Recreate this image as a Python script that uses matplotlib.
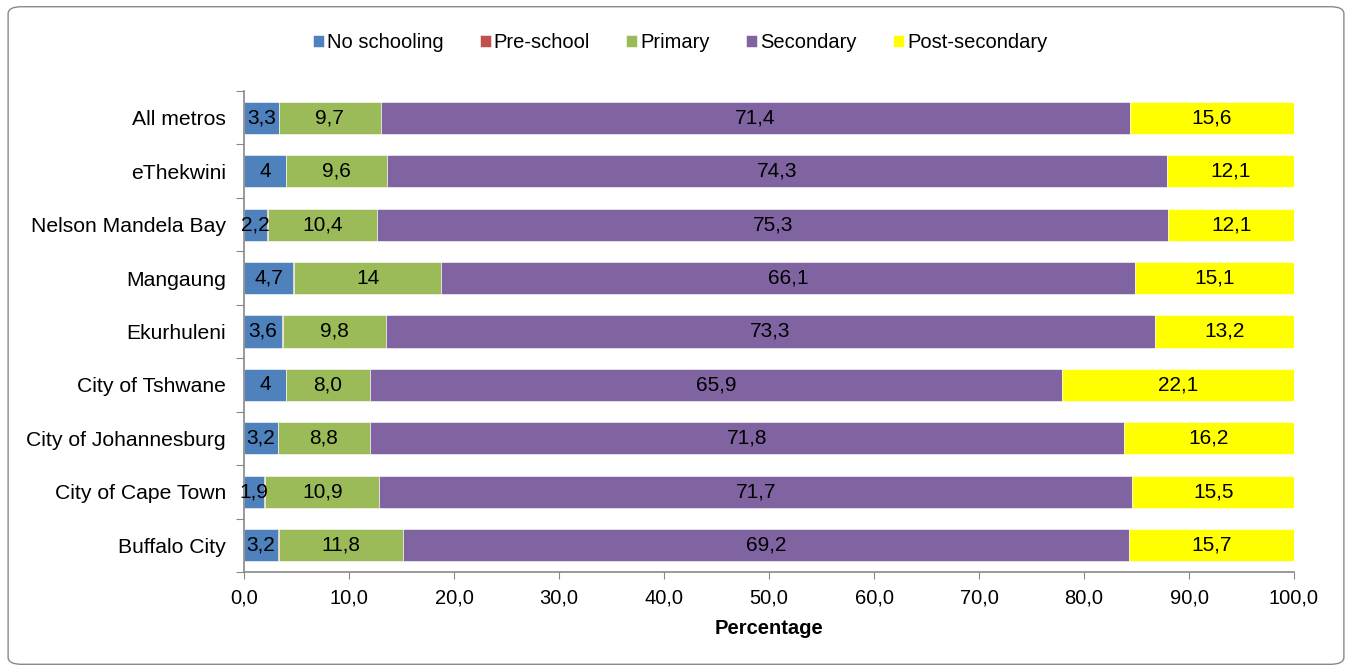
import numpy as np
import matplotlib.pyplot as plt
from matplotlib.patches import FancyBboxPatch
from matplotlib.ticker import FixedLocator

plt.rcParams['font.family'] = ['Liberation Sans', 'DejaVu Sans']

metros = ['All metros', 'eThekwini', 'Nelson Mandela Bay', 'Mangaung', 'Ekurhuleni',
          'City of Tshwane', 'City of Johannesburg', 'City of Cape Town', 'Buffalo City']

# values as printed in the labels (comma decimals)
no_schooling = ['3,3', '4', '2,2', '4,7', '3,6', '4', '3,2', '1,9', '3,2']
pre_school = ['0', '0', '0,1', '0,1', '0,1', '0', '0', '0,1', '0,1']
primary = ['9,7', '9,6', '10,4', '14', '9,8', '8,0', '8,8', '10,9', '11,8']
secondary = ['71,4', '74,3', '75,3', '66,1', '73,3', '65,9', '71,8', '71,7', '69,2']
post_secondary = ['15,6', '12,1', '12,1', '15,1', '13,2', '22,1', '16,2', '15,5', '15,7']

series = [
    ('No schooling', no_schooling, '#4F81BD', True),
    ('Pre-school', pre_school, '#C0504D', False),
    ('Primary', primary, '#9BBB59', True),
    ('Secondary', secondary, '#8064A2', True),
    ('Post-secondary', post_secondary, '#FFFF00', True),
]

FS = 14.5


def to_num(labels):
    return np.array([float(s.replace(',', '.')) for s in labels])


fig = plt.figure(figsize=(13.52, 6.71), dpi=100)
ax = fig.add_axes([0.1805, 0.1475, 0.7766, 0.717])

y = np.arange(len(metros))
left = np.zeros(len(metros))
for name, labels, color, show in series:
    vals = to_num(labels)
    ax.barh(y, vals, left=left, height=0.6, color=color, edgecolor='white',
            linewidth=0.4, label=name)
    if show:
        for yi, (l, v, s) in enumerate(zip(left, vals, labels)):
            ax.text(l + v / 2, yi, s, ha='center', va='center', fontsize=15, color='black')
    left += vals

ax.set_xlim(0, 100)
ax.set_ylim(len(metros) - 0.5, -0.5)
ax.set_xticks(np.arange(0, 101, 10))
ax.set_xticklabels([f'{v:.1f}'.replace('.', ',') for v in np.arange(0, 101, 10)], fontsize=FS)
ax.tick_params(axis='x', direction='out', length=5, color='#888888', pad=7)

# category labels on minor ticks, tick marks at the band boundaries
ax.yaxis.set_major_locator(FixedLocator(np.arange(-0.5, len(metros), 1)))
ax.yaxis.set_minor_locator(FixedLocator(y))
ax.set_yticklabels([])
ax.set_yticklabels(metros, minor=True, fontsize=15.2)
ax.tick_params(axis='y', which='major', direction='out', length=6, color='#888888')
ax.tick_params(axis='y', which='minor', length=0, pad=13)

for side in ['top', 'right']:
    ax.spines[side].set_visible(False)
for side in ['left', 'bottom']:
    ax.spines[side].set_color('#888888')
    ax.spines[side].set_linewidth(1.2)

ax.set_xlabel('Percentage', fontsize=FS, fontweight='bold', labelpad=8)

fig.legend(loc='center', bbox_to_anchor=(0.503, 0.937), ncol=5, frameon=False,
           fontsize=FS, handlelength=0.55, handleheight=0.55, handletextpad=0.15,
           columnspacing=1.8)

border = FancyBboxPatch((0.006, 0.01), 0.988, 0.98, boxstyle='round,pad=0,rounding_size=0.01',
                        transform=fig.transFigure, facecolor='none', edgecolor='#888888',
                        linewidth=1.0)
fig.patches.append(border)

fig.savefig('out.png', dpi=100)
